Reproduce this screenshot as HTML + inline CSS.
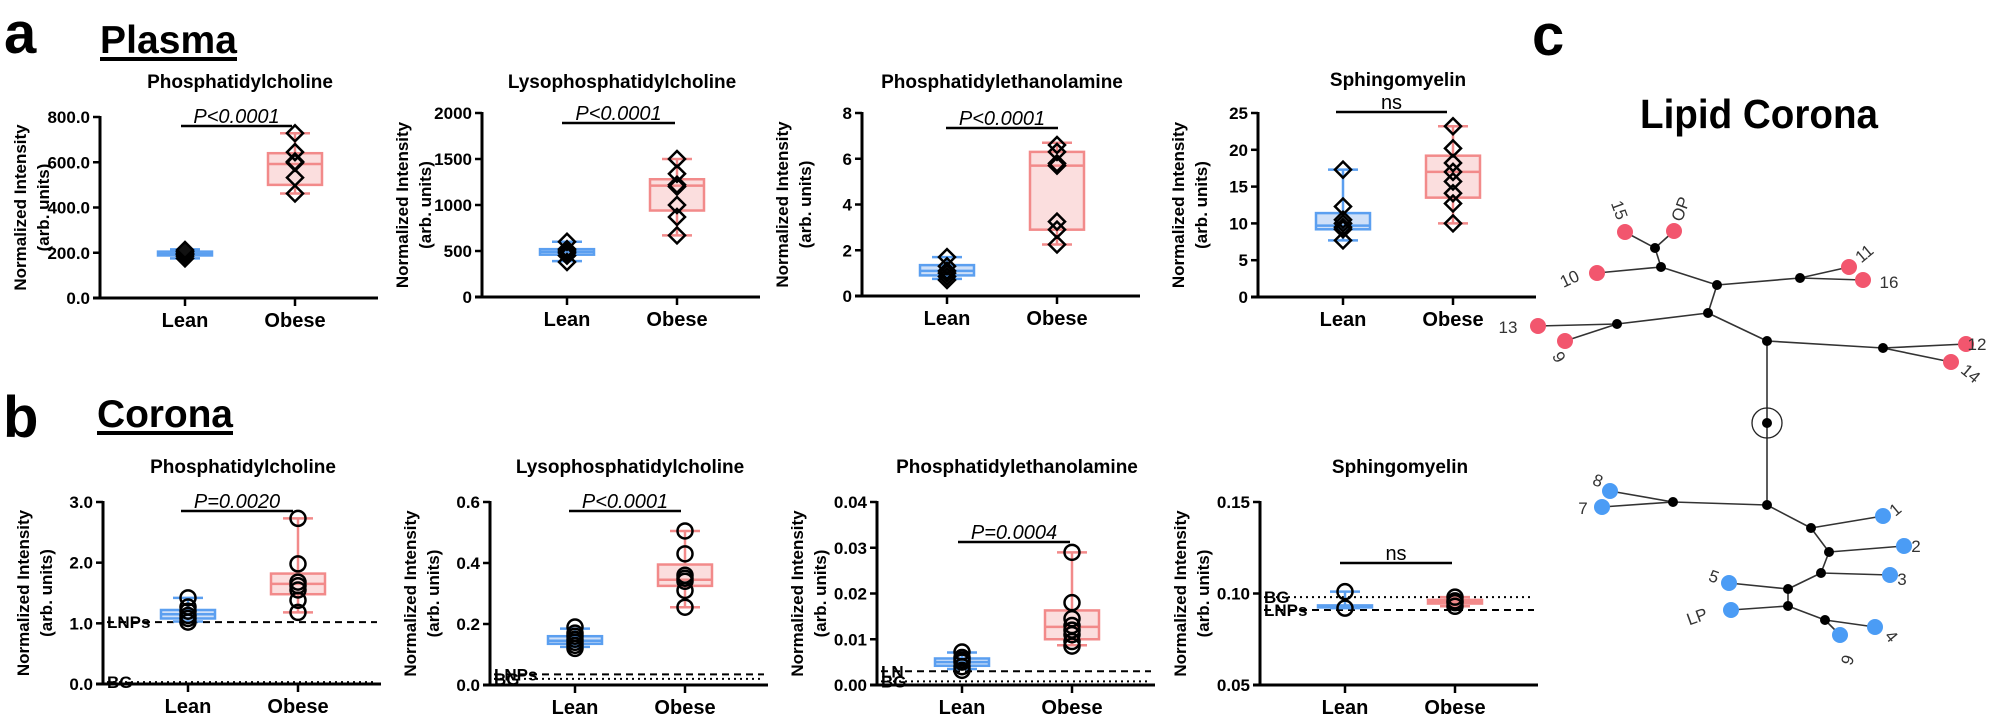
<!DOCTYPE html>
<html><head><meta charset="utf-8"><style>
html,body{margin:0;padding:0;background:#fff}
svg{display:block;font-family:"Liberation Sans",Arial,sans-serif}
</style></head><body>
<svg id="s" width="2000" height="723" viewBox="0 0 2000 723" xmlns="http://www.w3.org/2000/svg">
<text x="4" y="53" font-size="58" font-weight="bold">a</text>
<text x="100" y="53" font-size="39" font-weight="bold" textLength="137">Plasma</text>
<rect x="100" y="57" width="137" height="4" fill="#000"/>
<text x="3" y="437" font-size="58" font-weight="bold">b</text>
<text x="97" y="427" font-size="39" font-weight="bold" textLength="136">Corona</text>
<rect x="97" y="431" width="136" height="4" fill="#000"/>
<text x="1532" y="55" font-size="58" font-weight="bold">c</text>
<text x="1640" y="128" font-size="41" font-weight="bold" textLength="238" lengthAdjust="spacingAndGlyphs">Lipid Corona</text>
<g id="g"></g>
</svg>
<script>
const NS="http://www.w3.org/2000/svg",G=document.getElementById('g');
function el(t,a,txt){const e=document.createElementNS(NS,t);for(const k in a)e.setAttribute(k,a[k]);if(txt!==undefined)e.textContent=txt;G.appendChild(e);return e;}
const BL={s:"#5b9ff0",f:"#cfe0f8"},RD={s:"#f28a8a",f:"#fbdede"};
function panel(p){
 const ax=p.ax,yb=p.yb,yt=p.yt,end=ax+278;
 const Y=v=>yb-(v-p.lo)/(p.hi-p.lo)*(yb-yt);
 el('text',{x:ax+140,y:p.ty,'font-size':19,'font-weight':'bold','text-anchor':'middle'},p.title);
 const my=(yt+yb)/2;
 el('text',{x:0,y:0,'font-size':17,'font-weight':'bold','text-anchor':'middle',transform:`translate(${ax-74},${my}) rotate(-90)`},'Normalized Intensity');
 el('text',{x:0,y:0,'font-size':17,'font-weight':'bold','text-anchor':'middle',transform:`translate(${ax-51},${my}) rotate(-90)`},'(arb. units)');
 (p.lines||[]).forEach(l=>{
  el('line',{x1:ax+4,x2:end-4,y1:Y(l.v),y2:Y(l.v),stroke:'#000','stroke-width':2,'stroke-dasharray':l.d?'7,5':'2,4'});
  el('text',{x:ax+4,y:Y(l.v)+6,'font-size':17,'font-weight':'bold'},l.t);
 });
 el('line',{x1:ax,x2:ax,y1:yt-1,y2:yb+1.5,stroke:'#000','stroke-width':3});
 el('line',{x1:ax-7,x2:end,y1:yb,y2:yb,stroke:'#000','stroke-width':3});
 p.ticks.forEach((t,i)=>{const y=Y(t);
  el('line',{x1:ax-7,x2:ax,y1:y,y2:y,stroke:'#000','stroke-width':2.5});
  el('text',{x:ax-10,y:y+6,'font-size':17,'font-weight':'bold','text-anchor':'end'},p.tl[i]);});
 [[ax+85,'Lean'],[ax+195,'Obese']].forEach(([x,t])=>{
  el('line',{x1:x,x2:x,y1:yb,y2:yb+8,stroke:'#000','stroke-width':2.5});
  el('text',{x:x,y:yb+29,'font-size':20,'font-weight':'bold','text-anchor':'middle'},t);});
 el('line',{x1:p.sx[0],x2:p.sx[1],y1:p.sy,y2:p.sy,stroke:'#000','stroke-width':2.5});
 el('text',{x:(p.sx[0]+p.sx[1])/2,y:p.sy-3,'font-size':20,'font-style':p.ns?'normal':'italic','text-anchor':'middle'},p.sig);
 [[ax+85,p.L,BL],[ax+195,p.O,RD]].forEach(([x,d,c])=>{
  const [mn,q1,md,q3,mx]=d.b;
  el('line',{x1:x,x2:x,y1:Y(mx),y2:Y(mn),stroke:c.s,'stroke-width':2.5});
  el('rect',{x:x-27,y:Y(q3),width:54,height:Math.max(Y(q1)-Y(q3),2),fill:c.f,stroke:c.s,'stroke-width':2.5});
  el('line',{x1:x-27,x2:x+27,y1:Y(md),y2:Y(md),stroke:c.s,'stroke-width':2.5});
  [mn,mx].forEach(v=>el('line',{x1:x-15,x2:x+15,y1:Y(v),y2:Y(v),stroke:c.s,'stroke-width':2.5}));
  d.p.forEach(v=>{const y=Y(v);
   if(p.circ) el('circle',{cx:x,cy:y,r:7.5,fill:'none',stroke:'#000','stroke-width':2.5});
   else el('path',{d:`M${x} ${y-8}L${x+8} ${y}L${x} ${y+8}L${x-8} ${y}Z`,fill:d.fill||'none',stroke:'#000','stroke-width':2.5});
  });
 });
}
const A=[
{title:'Phosphatidylcholine',ax:100,yb:298,yt:117,lo:0,hi:800,ticks:[0,200,400,600,800],tl:['0.0','200.0','400.0','600.0','800.0'],ty:88,sx:[181,292],sy:126,sig:'P<0.0001',
 L:{b:[175,188,195,205,215],p:[175,185,192,198,205,212],fill:'#111'},O:{b:[462,500,592,640,728],p:[462,532,598,603,645,728]}},
{title:'Lysophosphatidylcholine',ax:482,yb:297,yt:113,lo:0,hi:2000,ticks:[0,500,1000,1500,2000],tl:['0','500','1000','1500','2000'],ty:88,sx:[562,675],sy:123,sig:'P<0.0001',
 L:{b:[390,460,490,520,600],p:[380,450,480,500,520,600]},O:{b:[670,940,1210,1280,1500],p:[670,870,1000,1200,1220,1340,1500]}},
{title:'Phosphatidylethanolamine',ax:862,yb:296,yt:113,lo:0,hi:8,ticks:[0,2,4,6,8],tl:['0','2','4','6','8'],ty:88,sx:[946,1058],sy:128,sig:'P<0.0001',
 L:{b:[.75,.9,1.1,1.35,1.7],p:[.7,.85,1.0,1.1,1.3,1.7]},O:{b:[2.25,2.9,5.7,6.3,6.7],p:[2.25,2.9,3.25,5.7,5.8,6.3,6.6]}},
{title:'Sphingomyelin',ax:1258,yb:297,yt:113,lo:0,hi:25,ticks:[0,5,10,15,20,25],tl:['0','5','10','15','20','25'],ty:86,sx:[1336,1447],sy:112,sig:'ns',ns:1,
 L:{b:[7.7,9.2,9.7,11.4,17.3],p:[7.7,9.2,9.5,10,10.5,12.3,17.3]},O:{b:[10,13.5,17,19.2,23.2],p:[10,12.7,14.1,15.7,17,18.2,20.2,23.2]}},
{title:'Phosphatidylcholine',ax:103,yb:684,yt:502,lo:0,hi:3,ticks:[0,1,2,3],tl:['0.0','1.0','2.0','3.0'],ty:473,sx:[181,293],sy:511,sig:'P=0.0020',circ:1,
 lines:[{v:1.02,d:1,t:'LNPs'},{v:.03,d:0,t:'BG'}],
 L:{b:[1.03,1.08,1.15,1.22,1.42],p:[1.02,1.08,1.13,1.2,1.27,1.42]},O:{b:[1.18,1.48,1.65,1.82,2.73],p:[1.18,1.38,1.55,1.62,1.68,1.98,2.73]}},
{title:'Lysophosphatidylcholine',ax:490,yb:685,yt:502,lo:0,hi:.6,ticks:[0,.2,.4,.6],tl:['0.0','0.2','0.4','0.6'],ty:473,sx:[569,681],sy:511,sig:'P<0.0001',circ:1,
 lines:[{v:.035,d:1,t:'LNPs'},{v:.02,d:0,t:'BG'}],
 L:{b:[.125,.135,.145,.16,.185],p:[.12,.13,.14,.15,.16,.17,.19]},O:{b:[.255,.325,.345,.395,.505],p:[.255,.31,.34,.35,.36,.43,.505]}},
{title:'Phosphatidylethanolamine',ax:877,yb:685,yt:502,lo:0,hi:.04,ticks:[0,.01,.02,.03,.04],tl:['0.00','0.01','0.02','0.03','0.04'],ty:473,sx:[958,1070],sy:542,sig:'P=0.0004',circ:1,
 lines:[{v:.003,d:1,t:'LN'},{v:.0008,d:0,t:'BG'}],
 L:{b:[.0035,.0042,.005,.0058,.0071],p:[.0032,.004,.005,.0055,.006,.0072]},O:{b:[.0087,.01,.0127,.0163,.029],p:[.0085,.0095,.011,.012,.013,.0145,.018,.029]}},
{title:'Sphingomyelin',ax:1260,yb:685,yt:502,lo:.05,hi:.15,ticks:[.05,.1,.15],tl:['0.05','0.10','0.15'],ty:473,sx:[1340,1452],sy:563,sig:'ns',ns:1,circ:1,
 lines:[{v:.098,d:0,t:'BG'},{v:.091,d:1,t:'LNPs'}],
 L:{b:[.092,.0925,.093,.0935,.101],p:[.092,.101]},O:{b:[.093,.0945,.0955,.0965,.098],p:[.093,.095,.096,.098]}}
];
A.forEach(panel);
const N={r:[1767,423],J1:[1655,248],J2:[1661,267],J3:[1717,285],J4:[1800,278],J5:[1708,313],J6:[1617,324],J7:[1767,341],J8:[1883,348],
J9:[1767,505],J10:[1673,502],J11:[1811,528],J12:[1829,552],J13:[1821,573],J14:[1788,589],J15:[1788,606],J16:[1825,620]};
const Lf={'15':[1625,232,'r'],'OP':[1674,231,'r'],'10':[1597,273,'r'],'11':[1849,267,'r'],'16':[1863,280,'r'],'13':[1538,326,'r'],'9':[1565,341,'r'],'12':[1966,344,'r'],'14':[1951,362,'r'],
'8':[1610,491,'b'],'7':[1602,507,'b'],'1':[1883,516,'b'],'2':[1904,546,'b'],'3':[1890,575,'b'],'5':[1729,583,'b'],'LP':[1731,610,'b'],'4':[1875,627,'b'],'6':[1840,635,'b']};
const P=k=>N[k]||Lf[k];
const E=[['J1','15'],['J1','OP'],['J1','J2'],['J2','10'],['J2','J3'],['J3','J4'],['J4','11'],['J4','16'],['J3','J5'],['J5','J6'],['J6','13'],['J6','9'],['J5','J7'],['J7','J8'],['J8','12'],['J8','14'],['J7','r'],['r','J9'],
['J9','J10'],['J10','8'],['J10','7'],['J9','J11'],['J11','1'],['J11','J12'],['J12','2'],['J12','J13'],['J13','3'],['J13','J14'],['J14','5'],['J14','J15'],['J15','LP'],['J15','J16'],['J16','4'],['J16','6']];
E.forEach(([a,b])=>el('line',{x1:P(a)[0],y1:P(a)[1],x2:P(b)[0],y2:P(b)[1],stroke:'#333','stroke-width':1.6}));
for(const k in N)el('circle',{cx:N[k][0],cy:N[k][1],r:5,fill:'#000'});
el('circle',{cx:1767,cy:423,r:15,fill:'none',stroke:'#222','stroke-width':1.3});
for(const k in Lf)el('circle',{cx:Lf[k][0],cy:Lf[k][1],r:8,fill:Lf[k][2]=='r'?'#f2566e':'#4b9cf5'});
const T=[['15',1614,212,70],['OP',1686,211,-70],['10',1572,284,-25],['11',1868,258,-40],['16',1889,288,0],['13',1508,333,0],['9',1554,360,60],['12',1977,350,0],['14',1967,378,40],
['8',1596,486,20],['7',1583,514,0],['1',1899,514,-40],['2',1916,552,0],['3',1902,585,0],['5',1712,582,20],['LP',1699,622,-20],['4',1887,640,50],['6',1842,658,110]];
T.forEach(([t,x,y,r])=>el('text',{x:0,y:0,'font-size':17,fill:'#333','text-anchor':'middle',transform:`translate(${x},${y}) rotate(${r})`},t));
</script>
</body></html>
